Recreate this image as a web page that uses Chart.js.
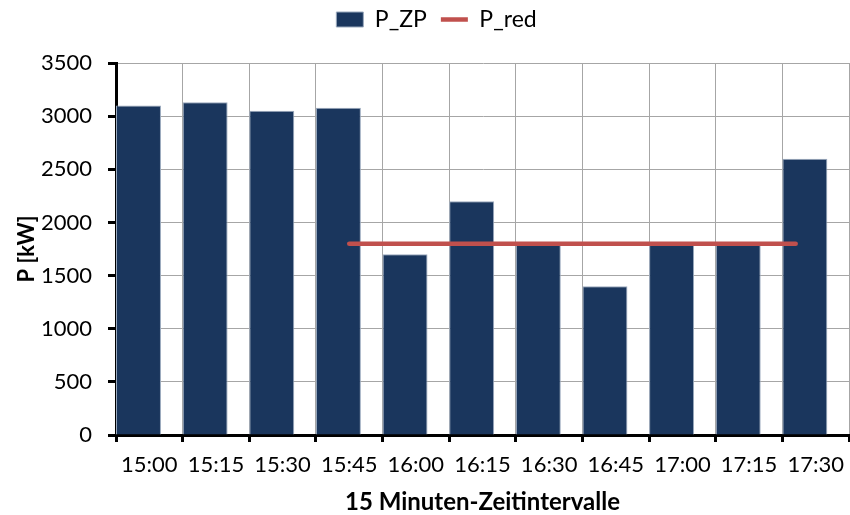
<!DOCTYPE html>
<html>
<head>
<meta charset="utf-8">
<script src="https://cdn.jsdelivr.net/npm/chart.js@4/dist/chart.umd.min.js"></script>
<style>
  html, body { margin: 0; padding: 0; background: #ffffff; }
  #wrap { width: 850px; height: 515px; }
</style>
</head>
<body>
<div id="wrap"><canvas id="chart" width="850" height="515"></canvas></div>
<script>
// 15-minute intervals on the category axis
const timeLabels = ['15:00', '15:15', '15:30', '15:45', '16:00', '16:15', '16:30', '16:45', '17:00', '17:15', '17:30'];

// Measured power per interval (kW)
const pZP = [3100, 3130, 3050, 3080, 1700, 2200, 1800, 1400, 1800, 1800, 2600];

// Reduced power limit (kW) and the time span it applies to
const pRedLevel = 1800;
const pRedFrom = '15:45';
const pRedTo = '17:25:30';

// Value axis ticks
const yMin = 0;
const yMax = 3500;
const yStep = 500;

// Bars fill this share of an interval and sit at its left edge
const BAR_FRACTION = 0.675;
const INTERVAL_MIN = 15;

const FONT = 'Lato, "Open Sans", "DejaVu Sans", sans-serif';
const BAR_COLOR = '#1a365d';
const BAR_EDGE = '#9aa9bd';
const RED = '#c0504d';
const GRID = '#a6a6a6';

// Legend band height and nudge of its row
const LEGEND_BAND = 63;
const LEGEND_SHIFT_Y = -6;
const LEGEND_SHIFT_X = 12;

// minutes after the first label
function minutesOf(t) {
  const [h, m, s] = t.split(':').map(Number);
  const [h0, m0] = timeLabels[0].split(':').map(Number);
  return (h * 60 + m + (s || 0) / 60) - (h0 * 60 + m0);
}

const barShift = -INTERVAL_MIN / 2 + (BAR_FRACTION * INTERVAL_MIN) / 2;
const barPoints = timeLabels.map((t, i) => ({ x: minutesOf(t) + barShift, y: pZP[i] }));
const redPoints = [
  { x: minutesOf(pRedFrom), y: pRedLevel },
  { x: minutesOf(pRedTo), y: pRedLevel }
];
const xMinMinutes = minutesOf(timeLabels[0]) - INTERVAL_MIN / 2;
const xMaxMinutes = minutesOf(timeLabels[timeLabels.length - 1]) + INTERVAL_MIN / 2;

// Gives the legend a fixed band above the plot
const legendBand = {
  id: 'legendBand',
  beforeLayout(chart) {
    const lg = chart.legend;
    if (lg && !lg._bandPatched) {
      const fit = lg.fit;
      lg.fit = function () {
        fit.call(this);
        this.height = LEGEND_BAND;
      };
      lg._bandPatched = true;
    }
  },
  afterLayout(chart) {
    const lg = chart.legend;
    if (lg) {
      lg.top += LEGEND_SHIFT_Y;
      lg.left += LEGEND_SHIFT_X;
      lg.right += LEGEND_SHIFT_X;
    }
  }
};

new Chart(document.getElementById('chart'), {
  type: 'bar',
  data: {
    labels: timeLabels,
    datasets: [
      {
        type: 'bar',
        label: 'P_ZP',
        data: barPoints,
        xAxisID: 'xm',
        yAxisID: 'y',
        backgroundColor: BAR_COLOR,
        borderColor: BAR_EDGE,
        borderWidth: 1,
        pointStyle: 'rect',
        barPercentage: BAR_FRACTION,
        categoryPercentage: 1,
        order: 2
      },
      {
        type: 'line',
        label: 'P_red',
        data: redPoints,
        xAxisID: 'xm',
        yAxisID: 'y',
        borderColor: RED,
        backgroundColor: RED,
        borderWidth: 4.5,
        borderCapStyle: 'round',
        pointRadius: 0,
        pointStyle: 'line',
        fill: false,
        order: 1
      }
    ]
  },
  plugins: [legendBand],
  options: {
    responsive: false,
    animation: false,
    devicePixelRatio: 1,
    layout: { padding: { top: 0, right: 1, left: 0, bottom: 0 } },
    plugins: {
      tooltip: { enabled: false },
      legend: {
        position: 'top',
        labels: {
          color: '#000',
          font: { family: FONT, size: 23 },
          usePointStyle: true,
          pointStyleWidth: 27,
          boxHeight: 15,
          padding: 14,
          sort: (a, b) => a.datasetIndex - b.datasetIndex
        }
      }
    },
    scales: {
      x: {
        type: 'category',
        position: 'bottom',
        offset: true,
        grid: {
          offset: true,
          color: GRID,
          lineWidth: 1,
          tickLength: 7,
          tickColor: '#000',
          tickWidth: 3
        },
        border: { color: '#000', width: 3 },
        ticks: {
          color: '#000',
          font: { family: FONT, size: 22 },
          padding: 10,
          maxRotation: 0,
          autoSkip: false
        },
        title: {
          display: true,
          text: '15 Minuten-Zeitintervalle',
          color: '#000',
          font: { family: FONT, size: 24, weight: 'bold' },
          padding: { top: 0, bottom: -2 }
        },
        afterFit: (s) => {
          s.height = 80;
          s.paddingLeft = 0;
          s.paddingRight = 0;
        }
      },
      xm: {
        type: 'linear',
        display: false,
        min: xMinMinutes,
        max: xMaxMinutes,
        afterBuildTicks: (s) => { s.ticks = []; }
      },
      y: {
        type: 'linear',
        position: 'left',
        min: yMin,
        max: yMax,
        grid: {
          color: GRID,
          lineWidth: 1,
          tickLength: 8,
          tickColor: '#000',
          tickWidth: 3
        },
        border: { color: '#000', width: 3 },
        ticks: {
          stepSize: yStep,
          color: '#000',
          font: { family: FONT, size: 22 },
          padding: 16,
          callback: (v) => String(v)
        },
        title: {
          display: true,
          text: 'P [kW]',
          color: '#000',
          font: { family: FONT, size: 22, weight: 'bold' },
          padding: { top: 14, bottom: 0 }
        },
        afterFit: (s) => { s.width = 116; }
      }
    }
  }
});
</script>
</body>
</html>
